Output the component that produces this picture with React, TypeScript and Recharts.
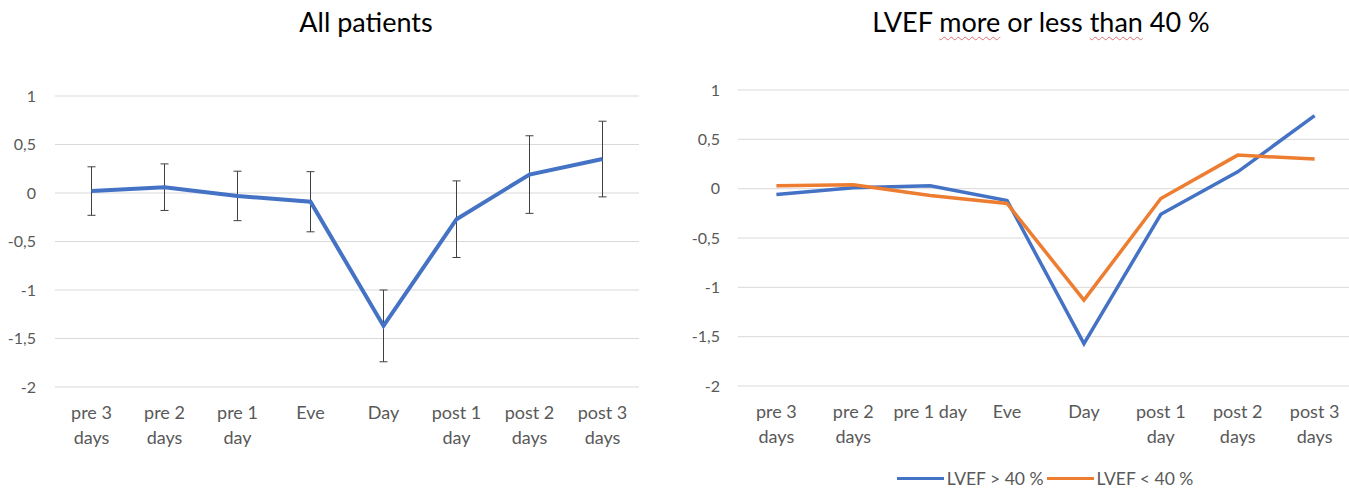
import React from 'react'
import { LineChart, Line, XAxis, YAxis, CartesianGrid, ErrorBar } from 'recharts'

const categories = ['pre 3 days', 'pre 2 days', 'pre 1 day', 'Eve', 'Day', 'post 1 day', 'post 2 days', 'post 3 days']

// wrapped tick labels, one list per panel (the right panel is a bit wider)
const leftTickLines = [['pre 3', 'days'], ['pre 2', 'days'], ['pre 1', 'day'], ['Eve'], ['Day'], ['post 1', 'day'], ['post 2', 'days'], ['post 3', 'days']]
const rightTickLines = [['pre 3', 'days'], ['pre 2', 'days'], ['pre 1 day'], ['Eve'], ['Day'], ['post 1', 'day'], ['post 2', 'days'], ['post 3', 'days']]

const allPatients = [0.02, 0.06, -0.03, -0.09, -1.37, -0.27, 0.19, 0.35]
const allPatientsErr = [0.25, 0.24, 0.255, 0.31, 0.37, 0.395, 0.4, 0.39]

const lvefAbove = [-0.06, 0.01, 0.03, -0.12, -1.57, -0.26, 0.17, 0.74]
const lvefBelow = [0.03, 0.04, -0.07, -0.15, -1.13, -0.1, 0.34, 0.3]

const seriesNames = ['LVEF > 40 %', 'LVEF < 40 %']
const yTicks = [-2, -1.5, -1, -0.5, 0, 0.5, 1]

const BLUE = '#4472C4'
const ORANGE = '#ED7D31'
const FONT = 'Lato, Carlito, Calibri, sans-serif'
const TICK_COLOR = '#595959'

const leftData = categories.map((cat, i) => ({ cat, value: allPatients[i], err: allPatientsErr[i] }))
const rightData = categories.map((cat, i) => ({ cat, above: lvefAbove[i], below: lvefBelow[i] }))

const fmt = (v: number) => String(v).replace('.', ',')

function makeTick(lines: string[][]) {
  return function WrappedTick({ x, y, index }: { x: number; y: number; index: number }) {
    const rows = lines[index] ?? []
    return (
      <text x={x} y={y + 24} textAnchor="middle" fill={TICK_COLOR} fontSize={18} fontFamily={FONT}>
        {rows.map((r, i) => (
          <tspan key={i} x={x} dy={i === 0 ? 0 : 25}>
            {r}
          </tspan>
        ))}
      </text>
    )
  }
}

const LeftTick = makeTick(leftTickLines)
const RightTick = makeTick(rightTickLines)

const yTickStyle = { fill: TICK_COLOR, fontSize: 16, fontFamily: FONT }

const squiggle = { textDecoration: 'underline wavy #e07070', textDecorationThickness: 1, textUnderlineOffset: 4 }

export default function App() {
  return (
    <div
      style={{
        position: 'absolute',
        left: 0,
        top: 0,
        width: 1349,
        height: 491,
        overflow: 'hidden',
        background: '#fff',
        fontFamily: FONT,
      }}
    >
      <div style={{ position: 'absolute', left: 216, top: 5, width: 300, textAlign: 'center', fontSize: 27, color: '#000' }}>
        All patients
      </div>
      <div style={{ position: 'absolute', left: 791, top: 5, width: 500, textAlign: 'center', fontSize: 27, color: '#000' }}>
        LVEF <span style={squiggle}>more</span> or less <span style={squiggle}>than</span> 40 %
      </div>

      <div style={{ position: 'absolute', left: 0, top: 0 }}>
        <LineChart width={680} height={491} data={leftData} margin={{ top: 96, right: 41, bottom: 44, left: 0 }}>
          <CartesianGrid vertical={false} stroke="#d9d9d9" />
          <XAxis
            dataKey="cat"
            axisLine={false}
            tickLine={false}
            height={60}
            interval={0}
            padding={{ left: 36.5, right: 36.5 }}
            tick={LeftTick as never}
          />
          <YAxis
            width={55}
            domain={[-2, 1]}
            ticks={yTicks}
            tickFormatter={fmt}
            axisLine={false}
            tickLine={false}
            tickSize={0}
            tickMargin={19}
            tick={yTickStyle}
          />
          <Line dataKey="value" stroke={BLUE} strokeWidth={4} dot={false} isAnimationActive={false}>
            <ErrorBar dataKey="err" width={4} stroke="#404040" strokeWidth={1} direction="y" />
          </Line>
        </LineChart>
      </div>

      <div style={{ position: 'absolute', left: 680, top: 0 }}>
        <LineChart width={680} height={491} data={rightData} margin={{ top: 90, right: 7, bottom: 45, left: 0 }}>
          <CartesianGrid vertical={false} stroke="#d9d9d9" />
          <XAxis
            dataKey="cat"
            axisLine={false}
            tickLine={false}
            height={60}
            interval={0}
            padding={{ left: 38.4, right: 38.4 }}
            tick={RightTick as never}
          />
          <YAxis
            width={58}
            domain={[-2, 1]}
            ticks={yTicks}
            tickFormatter={fmt}
            axisLine={false}
            tickLine={false}
            tickSize={0}
            tickMargin={18}
            tick={yTickStyle}
          />
          <Line dataKey="above" name={seriesNames[0]} stroke={BLUE} strokeWidth={3.5} dot={false} isAnimationActive={false} />
          <Line dataKey="below" name={seriesNames[1]} stroke={ORANGE} strokeWidth={3.5} dot={false} isAnimationActive={false} />
        </LineChart>
      </div>

      <div
        style={{
          position: 'absolute',
          left: 0,
          width: 2 * 1045,
          top: 468,
          display: 'flex',
          justifyContent: 'center',
          fontSize: 17.5,
          color: TICK_COLOR,
        }}
      >
        {seriesNames.map((name, i) => (
          <span key={name} style={{ display: 'flex', alignItems: 'center' }}>
            <span style={{ width: 47, height: 3.5, background: i === 0 ? BLUE : ORANGE, marginRight: 3, marginLeft: i === 0 ? 0 : 3 }} />
            {name}
          </span>
        ))}
      </div>
    </div>
  )
}
